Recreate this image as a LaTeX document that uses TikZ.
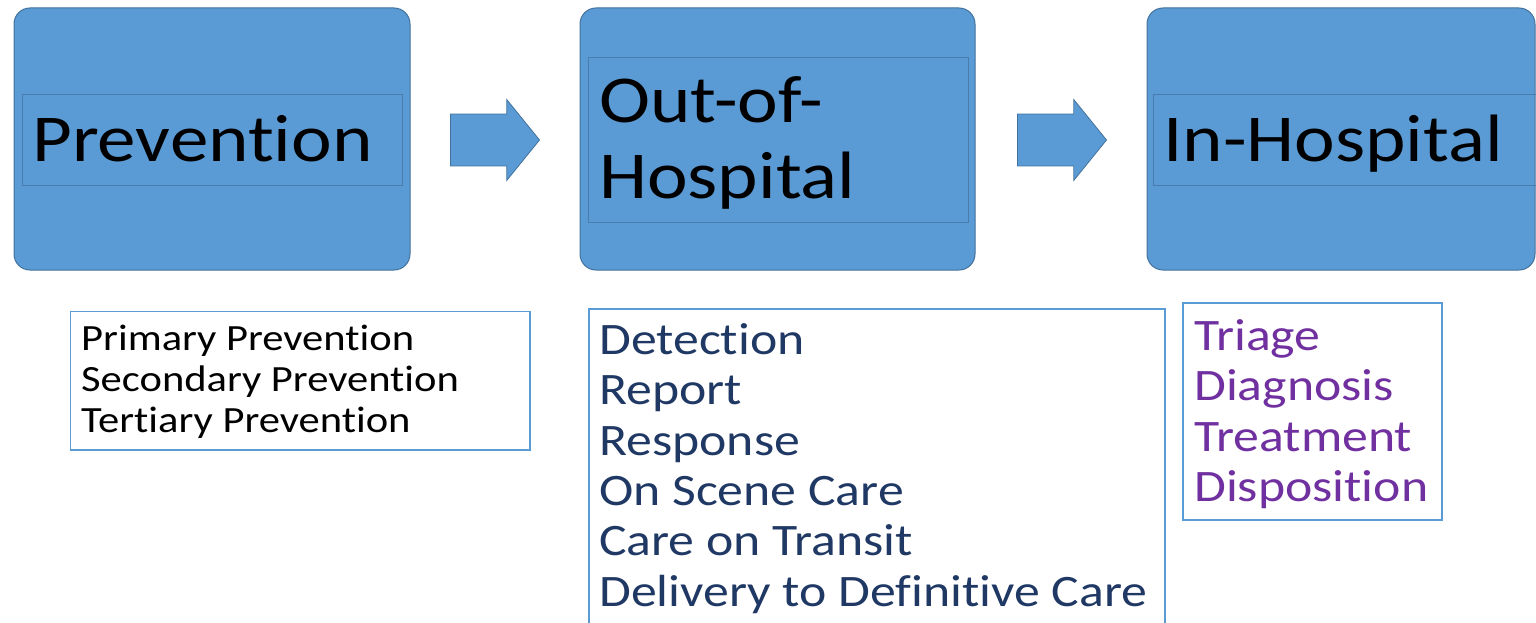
\documentclass[tikz,border=0pt]{standalone}
\usepackage{fontspec}
\setmainfont{Carlito}[FakeStretch=1.15, Ligatures={NoCommon,NoRare}, Contextuals=NoAlternate]
\usetikzlibrary{shapes}
\usetikzlibrary{shapes.arrows}
\definecolor{stageblue}{HTML}{5B9BD5}
\definecolor{stageedge}{HTML}{41719C}
\definecolor{titleedge}{HTML}{4A7DAE}
\definecolor{navytext}{HTML}{1F3864}
\definecolor{purpletext}{HTML}{7030A0}
\tikzset{
    stage/.style = {rectangle, rounded corners=16pt, draw=stageedge, line width=1pt, fill=stageblue, minimum height=262pt, inner sep=0pt},
    titlebox/.style = {rectangle, draw=titleedge, line width=0.8pt, inner sep=0pt},
    bigtext/.style = {anchor=base west, inner sep=0pt, font=\fontsize{67}{75}\selectfont},
    listbox/.style = {rectangle, draw=stageblue, line width=1.6pt, inner sep=0pt},
    itema/.style = {anchor=base west, inner sep=0pt, font=\fontsize{37}{41}\selectfont},
    itemb/.style = {anchor=base west, inner sep=0pt, text=navytext, font=\fontsize{45}{50}\selectfont},
    itemc/.style = {anchor=base west, inner sep=0pt, text=purpletext, font=\fontsize{45}{50}\selectfont},
    flow/.style = {single arrow, draw=stageedge, line width=0.8pt, fill=stageblue, inner sep=0pt, inner ysep=25.5pt,
                   minimum height=89pt, single arrow head extend=14.5pt, single arrow tip angle=102}
}

\begin{document}
\begin{tikzpicture}[x=1pt,y=-1pt]
\useasboundingbox (0,0) rectangle (1536,623);
% stages
\node[stage, minimum width=396pt] at (212.0, 139.0) (prev) {};
\node[stage, minimum width=395pt] at (777.5, 139.0) (outh) {};
\node[stage, minimum width=388pt] at (1341.0, 139.0) (inh) {};
\node[titlebox, minimum width=380pt, minimum height=90.5pt] at (212.0, 139.8) (prevt) {};
\node[titlebox, minimum width=380pt, minimum height=165.5pt] at (778.0, 139.8) (outht) {};
\node[titlebox, minimum width=387pt, minimum height=90.5pt] at (1346.5, 139.8) (inht) {};
\node[bigtext] at (32.0, 161.0) (prevl) {Prevention};
\node[bigtext] at (599.0, 123.0) (outl1) {Out-of-};
\node[bigtext] at (599.0, 198.0) (outl2) {Hospital};
\node[bigtext] at (1163.0, 161.0) (inhl) {In-Hospital};
%
\node[flow] at (484.5, 140.0) (f1) {};
\node[flow] at (1051.5, 140.0) (f2) {};
% lists
\node[listbox, minimum width=459.5pt, minimum height=138.5pt] at (300.25, 380.75) (lista) {};
\node[listbox, minimum width=576pt, minimum height=331pt] at (877.0, 474.5) (listb) {};
\node[listbox, minimum width=259pt, minimum height=217pt] at (1312.5, 411.5) (listc) {};
%
\node[itema] at (81.0, 350.0) (a1) {Primary Prevention};
\node[itema] at (81.0, 391.0) (a2) {Secondary Prevention};
\node[itema] at (81.0, 432.0) (a3) {Tertiary Prevention};
%
\node[itemb] at (599.0, 354.0) (b1) {Detection};
\node[itemb] at (599.0, 404.0) (b2) {Report};
\node[itemb] at (599.0, 455.0) (b3) {Response};
\node[itemb] at (599.0, 505.0) (b4) {On Scene Care};
\node[itemb] at (599.0, 555.0) (b5) {Care on Transit};
\node[itemb] at (599.0, 606.0) (b6) {Delivery to Definitive Care};
%
\node[itemc] at (1194.0, 350.0) (c1) {Triage};
\node[itemc] at (1194.0, 400.0) (c2) {Diagnosis};
\node[itemc] at (1194.0, 451.0) (c3) {Treatment};
\node[itemc] at (1194.0, 501.0) (c4) {Disposition};
\end{tikzpicture}
\end{document}
